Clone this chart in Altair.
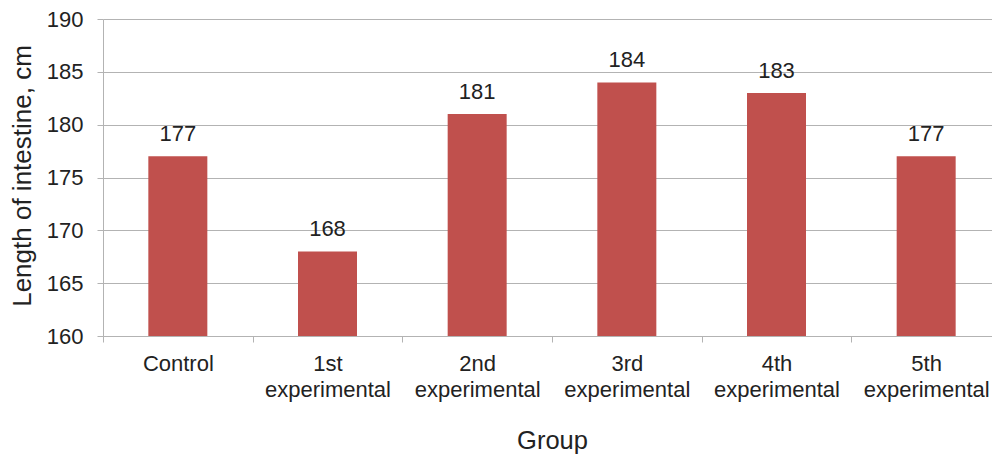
import altair as alt
import pandas as pd

# Intestine length by group
groups = ["Control", "1st experimental", "2nd experimental",
          "3rd experimental", "4th experimental", "5th experimental"]
lengths = [177, 168, 181, 184, 183, 177]

df = pd.DataFrame({"group": groups, "length": lengths})

FONT = "Liberation Sans"
TEXT = "#222222"
GRID = "#B3B3B3"
BAR = "#C0504D"

x = alt.X(
    "group:N",
    sort=groups,
    scale=alt.Scale(range=[0, 898], paddingInner=0, paddingOuter=0),
    axis=alt.Axis(
        title="Group",
        labelAngle=0,
        labelExpr="split(datum.label, ' ')",
        labelFontSize=22,
        labelLineHeight=26,
        labelPadding=11,
        labelColor=TEXT,
        labelFont=FONT,
        tickBand="extent",
        tickSize=6,
        tickColor=GRID,
        domainColor=GRID,
        titleFontSize=25.5,
        titleFontWeight="normal",
        titleColor=TEXT,
        titleFont=FONT,
        titleX=449,
        titleY=92,
        titleAlign="center",
        grid=False,
    ),
)

y = alt.Y(
    "length:Q",
    scale=alt.Scale(domain=[160, 190], zero=False, nice=False),
    axis=alt.Axis(
        title="Length of intestine, cm",
        values=[160, 165, 170, 175, 180, 185, 190],
        labelFontSize=22,
        labelPadding=14,
        labelColor=TEXT,
        labelFont=FONT,
        tickSize=6,
        tickColor=GRID,
        domainColor=GRID,
        gridColor=GRID,
        titleFontSize=26,
        titleFontWeight="normal",
        titleColor=TEXT,
        titleFont=FONT,
        titleX=-73,
        titleY=156.5,
        titleAngle=-90,
        titleAlign="center",
        titleBaseline="alphabetic",
    ),
)

bars = alt.Chart(df).mark_bar(color=BAR, size=59).encode(
    x=x, y=y, y2=alt.datum(160)
)

labels = alt.Chart(df).mark_text(
    fontSize=22, font=FONT, color=TEXT, baseline="alphabetic", dy=-15
).encode(x=alt.X("group:N", sort=groups), y="length:Q", text="length:Q")

chart = (
    alt.layer(bars, labels)
    .properties(
        width=889,
        height=317,
        padding={"left": 103, "top": 19, "right": 0, "bottom": 120},
        autosize=alt.AutoSizeParams(type="none"),
        background="white",
    )
    .configure_view(stroke=None)
)

chart.save("out.html", embed_options={"renderer": "svg", "actions": False})
